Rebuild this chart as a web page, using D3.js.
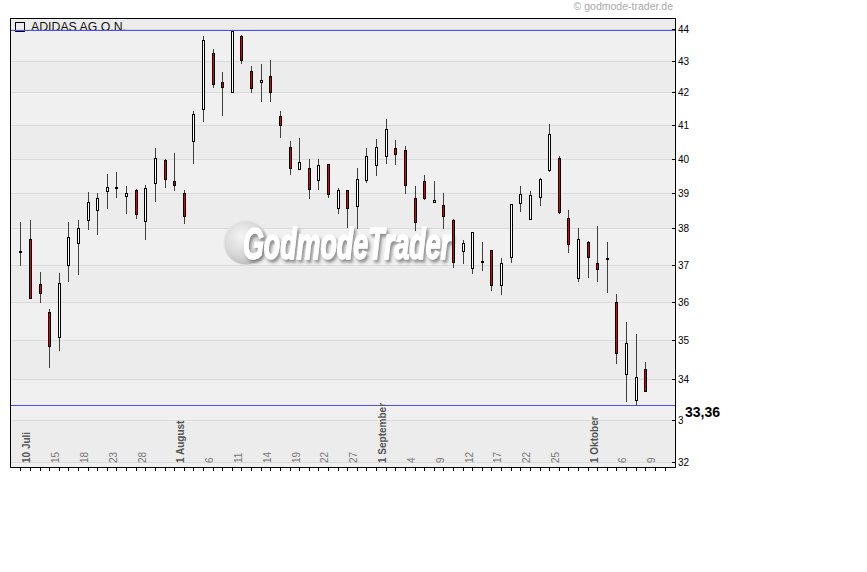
<!DOCTYPE html>
<html><head><meta charset="utf-8">
<script src="https://cdn.jsdelivr.net/npm/d3@7"></script>
<style>body{margin:0;background:#fff}svg{display:block}</style>
</head><body><svg id="c" width="867" height="572"></svg>
<script>
const title = "ADIDAS AG O.N.";
const copyright = "\u00A9 godmode-trader.de";
const watermark = "GodmodeTrader";
const dates = [
"2008-07-10","2008-07-11","2008-07-14","2008-07-15","2008-07-16","2008-07-17","2008-07-18","2008-07-21","2008-07-22","2008-07-23","2008-07-24","2008-07-25","2008-07-28","2008-07-29","2008-07-30","2008-07-31",
"2008-08-01","2008-08-04","2008-08-05","2008-08-06","2008-08-07","2008-08-08","2008-08-11","2008-08-12","2008-08-13","2008-08-14","2008-08-15","2008-08-18","2008-08-19","2008-08-20","2008-08-21","2008-08-22","2008-08-25","2008-08-26","2008-08-27","2008-08-28","2008-08-29",
"2008-09-01","2008-09-02","2008-09-03","2008-09-04","2008-09-05","2008-09-08","2008-09-09","2008-09-10","2008-09-11","2008-09-12","2008-09-15","2008-09-16","2008-09-17","2008-09-18","2008-09-19","2008-09-22","2008-09-23","2008-09-24","2008-09-25","2008-09-26","2008-09-29","2008-09-30",
"2008-10-01","2008-10-02","2008-10-03","2008-10-06","2008-10-07","2008-10-08","2008-10-09"];
const futureSlots = ["2008-10-10","2008-10-13"];
const open  = [37.35,37.70,36.47,35.72,35.07,36.98,37.59,38.23,38.51,39.05,39.14,38.91,39.08,38.20,39.30,39.95,39.34,39.00,40.51,41.50,43.23,42.32,42.00,43.79,42.66,42.32,42.50,41.27,40.34,39.69,39.72,39.39,39.84,38.58,39.08,38.64,39.39,39.81,40.07,40.31,40.25,38.85,39.34,38.73,38.66,38.23,37.36,36.90,37.08,37.40,36.44,37.20,38.71,38.27,38.88,39.66,40.01,38.28,36.63,37.61,37.03,37.16,35.98,34.13,33.48,34.25];
const high  = [38.18,38.23,36.80,35.81,36.77,38.18,38.23,39.03,39.00,39.54,39.60,39.20,39.11,39.23,40.32,39.98,40.17,39.09,41.43,43.79,43.37,42.64,43.98,43.81,42.82,42.89,43.02,41.43,40.53,40.62,39.99,39.99,39.84,39.14,39.08,39.73,40.31,40.59,41.19,40.56,40.37,39.21,39.51,39.35,39.01,38.25,37.68,37.90,37.63,37.40,37.18,38.69,39.21,39.05,39.43,41.04,40.08,38.52,38.01,37.65,38.07,37.62,36.21,35.47,35.16,34.44];
const low   = [36.99,36.09,36.00,34.32,34.73,36.54,36.74,37.99,37.85,38.56,38.90,38.42,38.30,37.69,38.76,39.16,39.09,38.16,39.88,41.14,42.18,41.32,42.00,42.93,42.00,41.75,41.75,40.63,39.55,39.69,38.87,39.13,38.90,38.44,38.05,38.02,39.33,39.51,39.88,39.85,39.01,37.96,38.84,38.73,38.02,36.94,37.05,36.78,36.84,36.30,36.20,37.08,38.50,38.27,38.66,39.65,38.44,37.35,36.54,36.65,36.54,36.27,34.42,33.47,33.36,33.70];
const close = [37.35,36.09,36.23,34.84,36.49,37.75,38.00,38.74,38.85,39.16,39.14,39.00,38.39,39.14,40.01,39.41,39.24,38.36,41.33,43.65,42.25,42.16,43.93,43.03,42.15,42.40,42.00,40.99,39.72,39.90,39.13,39.81,38.98,39.08,38.56,39.40,40.07,40.34,40.88,40.15,39.23,38.19,38.87,38.80,38.36,37.08,37.59,37.90,37.08,36.44,37.03,38.69,38.97,38.94,39.40,40.72,38.47,37.56,37.70,37.20,36.87,37.16,34.66,34.92,34.05,33.70];
const yTicks = [32,33,34,35,36,37,38,39,40,41,42,43,44];
const xTickDates  = ["2008-07-10","2008-07-15","2008-07-18","2008-07-23","2008-07-28","2008-08-01","2008-08-06","2008-08-11","2008-08-14","2008-08-19","2008-08-22","2008-08-27","2008-09-01","2008-09-04","2008-09-09","2008-09-12","2008-09-17","2008-09-22","2008-09-25","2008-10-01","2008-10-06","2008-10-09"];
const xTickLabels = ["10 Juli","15","18","23","28","1 August","6","11","14","19","22","27","1 September","4","9","12","17","22","25","1 Oktober","6","9"];

const svg = d3.select("#c");
const L = 10, T = 18, R = 675, B = 467;
const x = d3.scalePoint().domain(dates.concat(futureSlots)).range([20.3, 20.3 + 67 * 9.615]);
const y = d3.scaleLog().domain([32, 44]).range([461.6, 29.3]);
const py = v => Math.round(y(v));
const px = d => Math.round(x(d));

const defs = svg.append("defs");
defs.append("clipPath").attr("id","plot").append("rect").attr("x",L).attr("y",T).attr("width",R-L).attr("height",B-T);
const rg = defs.append("radialGradient").attr("id","ball").attr("cx","40%").attr("cy","35%").attr("r","65%");
rg.append("stop").attr("offset","0%").attr("stop-color","#f4f4f4");
rg.append("stop").attr("offset","70%").attr("stop-color","#d6d6d6");
rg.append("stop").attr("offset","100%").attr("stop-color","#bdbdbd");
const fl = defs.append("filter").attr("id","shadow").attr("x","-10%").attr("y","-20%").attr("width","130%").attr("height","160%");
fl.append("feDropShadow").attr("dx",2).attr("dy",3).attr("stdDeviation",1.6).attr("flood-color","#777").attr("flood-opacity",0.8);

const plot = svg.append("g").attr("clip-path","url(#plot)");
// background bands
const bandEdges = [d3.min(yTicks) - 1].concat(yTicks).concat([d3.max(yTicks) + 1]);
plot.append("rect").attr("x",L).attr("y",T).attr("width",R-L).attr("height",B-T).attr("fill","#efefef");
for (let i = 0; i < bandEdges.length - 1; i++) {
  const lo = bandEdges[i], hi = bandEdges[i+1];
  const dark = (43 - lo) % 2 !== 0;
  const y1 = hi > 44 ? T : py(hi), y2 = lo < 32 ? B : py(lo);
  plot.append("rect").attr("x",L).attr("y",y1).attr("width",R-L).attr("height",y2-y1)
    .attr("fill", dark ? "#ececec" : "#f0f0f0");
}
plot.selectAll(".grid").data(yTicks).join("line")
  .attr("x1",L).attr("x2",R).attr("y1",d=>py(d)+0.5).attr("y2",d=>py(d)+0.5)
  .attr("stroke","#dadada").attr("stroke-width",1);

// watermark
const wm = plot.append("g");
wm.append("circle").attr("cx",246).attr("cy",243).attr("r",22).attr("fill","url(#ball)").attr("stroke","#e4e4e4");
wm.append("text").attr("x",243).attr("y",259).text(watermark)
  .attr("font-family","'Liberation Sans Narrow','Liberation Sans',Arial,sans-serif")
  .attr("font-weight","bold").attr("font-style","italic").attr("font-size",44)
  .attr("textLength",208).attr("lengthAdjust","spacingAndGlyphs")
  .attr("fill","#ffffff").attr("stroke","#ffffff").attr("stroke-width",1.6)
  .attr("filter","url(#shadow)");

// candles
const idx = d3.range(dates.length);
const cg = plot.append("g");
cg.selectAll(".wick").data(idx).join("line")
  .attr("x1",i=>px(dates[i])+0.5).attr("x2",i=>px(dates[i])+0.5)
  .attr("y1",i=>py(high[i])).attr("y2",i=>py(low[i])+1)
  .attr("stroke","#404040").attr("stroke-width",1);
const bodies = idx.filter(i => open[i] !== close[i]);
cg.selectAll(".body").data(bodies).join("rect")
  .attr("x",i=>px(dates[i])-0.5).attr("width",2)
  .attr("y",i=>py(Math.max(open[i],close[i]))+0.5)
  .attr("height",i=>Math.max(1, py(Math.min(open[i],close[i])) - py(Math.max(open[i],close[i]))))
  .attr("fill",i=> close[i] < open[i] ? "#e00000" : "#ffffff")
  .attr("stroke","#000").attr("stroke-width",1);
const dojis = idx.filter(i => open[i] === close[i]);
cg.selectAll(".doji").data(dojis).join("rect")
  .attr("x",i=>px(dates[i])-1).attr("width",3)
  .attr("y",i=>py(close[i])-1).attr("height",2).attr("fill","#000");

// title
svg.append("rect").attr("x",15.5).attr("y",22.5).attr("width",9).attr("height",9)
  .attr("fill","none").attr("stroke","#000");
svg.append("text").attr("x",31).attr("y",30.5).text(title)
  .attr("font-family","'Liberation Sans',Arial,sans-serif").attr("font-size",12.3).attr("fill","#111");

// copyright
svg.append("text").attr("x",673).attr("y",10).attr("text-anchor","end").text(copyright)
  .attr("font-family","'Liberation Sans',Arial,sans-serif").attr("font-size",10.5).attr("fill","#a8a8a8");

// frame
svg.append("line").attr("x1",L+0.5).attr("x2",L+0.5).attr("y1",T).attr("y2",B+1).attr("stroke","#000");
svg.append("line").attr("x1",L).attr("x2",R+1).attr("y1",T+0.5).attr("y2",T+0.5).attr("stroke","#000");
svg.append("line").attr("x1",L).attr("x2",R+1).attr("y1",B+0.5).attr("y2",B+0.5).attr("stroke","#000");
svg.append("line").attr("x1",R+0.5).attr("x2",R+0.5).attr("y1",T).attr("y2",B+1).attr("stroke","#000");

// min / max lines (drawn on top)
const maxH = d3.max(high), minL = d3.min(low);
svg.append("g").selectAll("line").data([maxH, minL]).join("line")
  .attr("x1",L+1).attr("x2",R).attr("y1",v=>py(v)+0.5).attr("y2",v=>py(v)+0.5)
  .attr("stroke","#4d4dff").attr("stroke-width",1);

// right axis
const ya = svg.append("g");
ya.selectAll("line").data(yTicks).join("line")
  .attr("x1",672).attr("x2",R).attr("y1",d=>py(d)+0.5).attr("y2",d=>py(d)+0.5).attr("stroke","#000");
ya.selectAll("text").data(yTicks).join("text")
  .attr("x",678).attr("y",d=>py(d)+4).text(d=>d)
  .attr("font-family","'Liberation Sans',Arial,sans-serif").attr("font-size",10).attr("fill","#000");

// last-low label
const fmt = v => d3.format(".2f")(v).replace(".", ",");
svg.append("rect").attr("x",683.5).attr("y",py(minL)-1).attr("width",44).attr("height",21).attr("fill","#fff");
svg.append("text").attr("x",685).attr("y",py(minL)+12).text(fmt(minL))
  .attr("font-family","'Liberation Sans',Arial,sans-serif").attr("font-weight","bold")
  .attr("font-size",14).attr("fill","#000");

// bottom axis ticks
svg.append("g").selectAll("line").data(x.domain()).join("line")
  .attr("x1",d=>px(d)+0.5).attr("x2",d=>px(d)+0.5).attr("y1",B+1).attr("y2",B+4).attr("stroke","#000");
// bottom labels
svg.append("g").selectAll("text").data(xTickDates).join("text")
  .attr("transform",(d,i)=>`translate(${x(d)+10},463) rotate(-90)`)
  .text((d,i)=>xTickLabels[i])
  .attr("font-family","'Liberation Sans',Arial,sans-serif").attr("font-size",10)
  .attr("font-weight",(d,i)=> xTickLabels[i].includes(" ") ? "bold" : "normal")
  .attr("fill",(d,i)=> xTickLabels[i].includes(" ") ? "#555" : "#777");
</script></body></html>
